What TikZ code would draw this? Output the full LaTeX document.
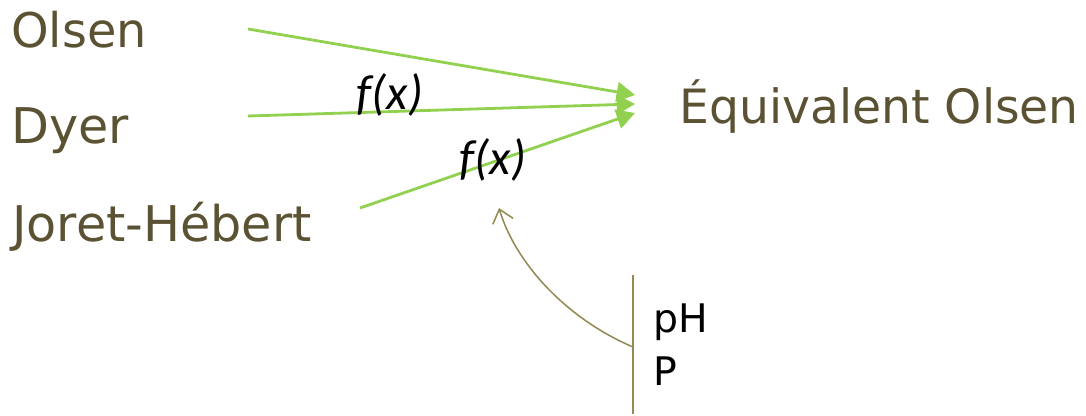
\documentclass[tikz,border=0pt]{standalone}
\usepackage{fontspec}
\setmainfont{DejaVu Sans}
\newfontfamily\fxfont{Carlito}
\usetikzlibrary{arrows.meta}
\definecolor{olive}{HTML}{5A5232}
\definecolor{lgreen}{HTML}{92D050}
\definecolor{khaki}{HTML}{948A54}
\tikzset{
  lbl/.style={font=\fontsize{35}{40}\selectfont, text=olive, inner sep=0pt, anchor=base west},
  fx/.style={font=\fxfont\itshape\fontsize{35}{40}\selectfont, inner sep=0pt},
  par/.style={font=\fontsize{28}{32}\selectfont, text=black, inner sep=0pt, anchor=base west},
  garrow/.style={draw=lgreen, line width=2pt, -{Triangle[length=13pt,width=14pt]}},
}
\begin{document}
\begin{tikzpicture}[x=0.025cm,y=-0.025cm]
\useasboundingbox (0,0) rectangle (1086,415);
\node[lbl, font=\fontsize{34}{40}\selectfont] (olsen) at (11,47) {Olsen};
\node[lbl] (dyer) at (11,143) {Dyer};
\node[lbl] (joret) at (12,241) {Joret-Hébert};
\node[lbl, font=\fontsize{33.6}{40}\selectfont] (equiv) at (679,123) {Équivalent Olsen};
\coordinate (s1) at (248,29);
\coordinate (s2) at (248,116);
\coordinate (s3) at (360,208);
\coordinate (e1) at (635,95);
\coordinate (e2) at (635,104);
\coordinate (e3) at (635,113);
\draw[garrow] (s1) -- (e1);
\draw[garrow] (s2) -- (e2);
\draw[garrow] (s3) -- (e3);
\node[fx] (fx1) at (390,95) {f(x)};
\node[fx] (fx2) at (493,160) {f(x)};
\coordinate (vt) at (633,275);
\coordinate (vb) at (633,414);
\coordinate (vm) at (633,347);
\coordinate (tip) at (499,208);
\draw[draw=khaki, line width=1.3pt] (vt) -- (vb);
\draw[draw=khaki, line width=1.1pt, -{Straight Barb[length=9pt,width=15pt]}] (vm) .. controls (565,318) and (515,262) .. (tip);
\node[par] (ph) at (653,332) {pH};
\node[par] (p) at (653,385) {P};
\end{tikzpicture}
\end{document}
